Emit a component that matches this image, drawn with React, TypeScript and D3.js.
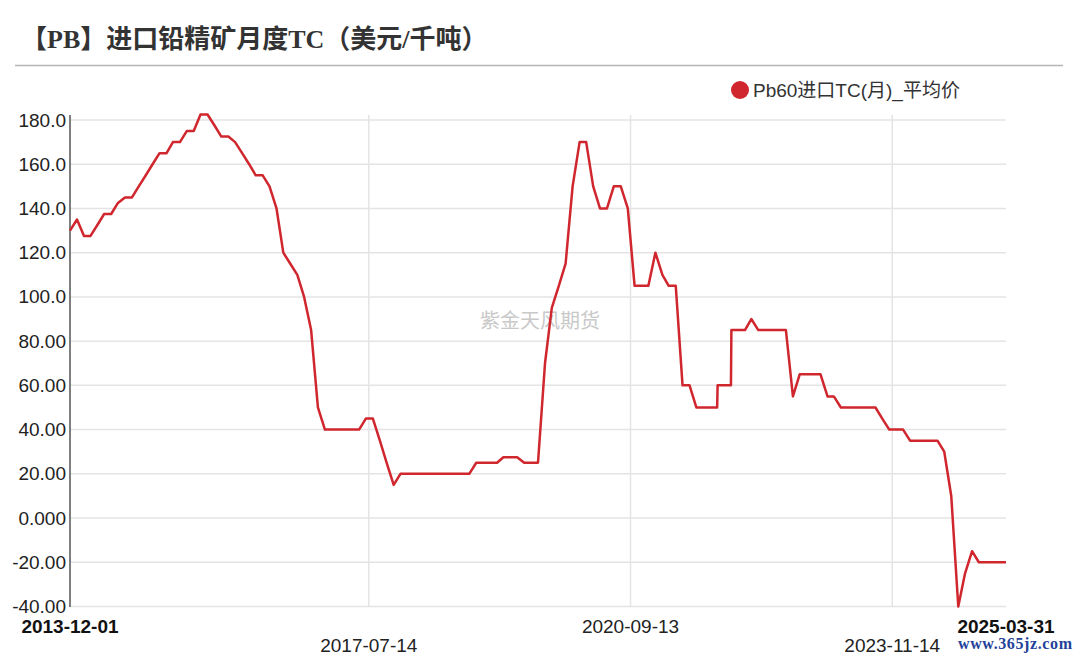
import React from "react";
import * as d3 from "d3";

const tcSeries: [string, number][] = [
  ["2013-12-01", 130], ["2014-01-01", 135], ["2014-02-01", 127.5], ["2014-03-01", 127.5],
  ["2014-04-01", 132.5], ["2014-05-01", 137.5], ["2014-06-01", 137.5], ["2014-07-01", 142.5],
  ["2014-08-01", 145], ["2014-09-01", 145], ["2014-10-01", 150], ["2014-11-01", 155],
  ["2014-12-01", 160], ["2015-01-01", 165], ["2015-02-01", 165], ["2015-03-01", 170],
  ["2015-04-01", 170], ["2015-05-01", 175], ["2015-06-01", 175], ["2015-07-01", 182.5],
  ["2015-08-01", 182.5], ["2015-09-01", 177.5], ["2015-10-01", 172.5], ["2015-11-01", 172.5],
  ["2015-12-01", 170], ["2016-01-01", 165], ["2016-02-01", 160], ["2016-03-01", 155],
  ["2016-04-01", 155], ["2016-05-01", 150], ["2016-06-01", 140], ["2016-07-01", 120],
  ["2016-08-01", 115], ["2016-09-01", 110], ["2016-10-01", 100], ["2016-11-01", 85],
  ["2016-12-01", 50], ["2017-01-01", 40], ["2017-02-01", 40], ["2017-03-01", 40],
  ["2017-04-01", 40], ["2017-05-01", 40], ["2017-06-01", 40], ["2017-07-01", 45],
  ["2017-08-01", 45], ["2017-09-01", 35], ["2017-10-01", 25], ["2017-11-01", 15],
  ["2017-12-01", 20], ["2018-01-01", 20], ["2018-02-01", 20], ["2018-03-01", 20],
  ["2018-04-01", 20], ["2018-05-01", 20], ["2018-06-01", 20], ["2018-07-01", 20],
  ["2018-08-01", 20], ["2018-09-01", 20], ["2018-10-01", 20], ["2018-11-01", 25],
  ["2018-12-01", 25], ["2019-01-01", 25], ["2019-02-01", 25], ["2019-03-01", 27.5],
  ["2019-04-01", 27.5], ["2019-05-01", 27.5], ["2019-06-01", 25], ["2019-07-01", 25],
  ["2019-08-01", 25], ["2019-09-01", 70], ["2019-10-01", 95], ["2019-11-01", 105],
  ["2019-12-01", 115], ["2020-01-01", 150], ["2020-02-01", 170], ["2020-03-01", 170],
  ["2020-04-01", 150], ["2020-05-01", 140], ["2020-06-01", 140], ["2020-07-01", 150],
  ["2020-08-01", 150], ["2020-09-01", 140], ["2020-10-01", 105], ["2020-11-01", 105],
  ["2020-12-01", 105], ["2021-01-01", 120], ["2021-02-01", 110], ["2021-03-01", 105],
  ["2021-04-01", 105], ["2021-05-01", 60], ["2021-06-01", 60], ["2021-07-01", 50],
  ["2021-08-01", 50], ["2021-09-01", 50], ["2021-10-01", 50], ["2021-10-03", 60],
  ["2021-11-01", 60], ["2021-12-01", 60], ["2021-12-03", 85], ["2022-01-01", 85],
  ["2022-02-01", 85], ["2022-03-01", 90], ["2022-04-01", 85], ["2022-05-01", 85],
  ["2022-06-01", 85], ["2022-07-01", 85], ["2022-08-01", 85], ["2022-09-01", 55],
  ["2022-10-01", 65], ["2022-11-01", 65], ["2022-12-01", 65], ["2023-01-01", 65],
  ["2023-02-01", 55], ["2023-03-01", 55], ["2023-04-01", 50], ["2023-05-01", 50],
  ["2023-06-01", 50], ["2023-07-01", 50], ["2023-08-01", 50], ["2023-09-01", 50],
  ["2023-10-01", 45], ["2023-11-01", 40], ["2023-12-01", 40], ["2024-01-01", 40],
  ["2024-02-01", 35], ["2024-03-01", 35], ["2024-04-01", 35], ["2024-05-01", 35],
  ["2024-06-01", 35], ["2024-07-01", 30], ["2024-08-01", 10], ["2024-09-01", -40],
  ["2024-10-01", -25], ["2024-11-01", -15], ["2024-12-01", -20], ["2025-01-01", -20],
  ["2025-02-01", -20], ["2025-03-01", -20], ["2025-03-31", -20],
];

const yTicks: number[] = [180, 160, 140, 120, 100, 80, 60, 40, 20, 0, -20, -40];
const yTickLabels: string[] = ["180.0", "160.0", "140.0", "120.0", "100.0", "80.00", "60.00", "40.00", "20.00", "0.000", "-20.00", "-40.00"];
const xTickDates: string[] = ["2013-12-01", "2017-07-14", "2020-09-13", "2023-11-14", "2025-03-31"];
const xTickRow: number[] = [0, 1, 0, 1, 0];
const xTickBold: boolean[] = [true, false, false, false, true];
const xGridDates: string[] = ["2017-07-14", "2020-09-13", "2023-11-14"];

const TITLE = "【PB】进口铅精矿月度TC（美元/千吨）";
const LEGEND = "Pb60进口TC(月)_平均价";
const RED = "#d0262d";

const parse = d3.timeParse("%Y-%m-%d");

export default function App() {
  const W = 1080, H = 656;
  const left = 70, right = 1006, top = 120, bottom = 606.5;
  const data = tcSeries.map(([d, v]) => ({ date: parse(d) as Date, value: v }));
  const x = d3.scaleTime()
    .domain([parse("2013-12-01") as Date, parse("2025-03-31") as Date])
    .range([left, right]);
  const y = d3.scaleLinear().domain([-40, 180]).range([bottom, top]);
  const line = d3.line<{ date: Date; value: number }>()
    .x((d) => x(d.date))
    .y((d) => y(d.value));
  const sans = "'Liberation Sans', Arial, 'Noto Sans CJK SC', sans-serif";

  return (
    <svg width={W} height={H} style={{ position: "absolute", left: 0, top: 0, background: "#fff" }}>
      <rect x={0} y={0} width={W} height={H} fill="#fff" />
      <text x={21} y={48} fontSize={26} fontWeight="bold" fill="#333"
        fontFamily="'Liberation Serif', 'Noto Sans CJK SC', serif">{TITLE}</text>
      <line x1={15} x2={1063} y1={65.5} y2={65.5} stroke="#b5b5b5" strokeWidth={1.5} />

      <circle cx={740} cy={90} r={9} fill={RED} />
      <text x={753} y={97} fontSize={19} fill="#333" fontFamily={sans}>{LEGEND}</text>

      {yTicks.map((t) => (
        <line key={"h" + t} x1={left} x2={right} y1={y(t)} y2={y(t)} stroke="#e4e4e4" strokeWidth={1.5} />
      ))}
      {xGridDates.map((d) => {
        const xx = x(parse(d) as Date);
        return <line key={"v" + d} x1={xx} x2={xx} y1={115} y2={bottom} stroke="#e4e4e4" strokeWidth={1.5} />;
      })}
      <line x1={left} x2={left} y1={115} y2={bottom + 0.5} stroke="#555" strokeWidth={1.5} />

      {yTicks.map((t, i) => (
        <text key={"yl" + t} x={66} y={y(t) + 6.5} fontSize={19} textAnchor="end" fill="#222" fontFamily={sans}>
          {yTickLabels[i]}
        </text>
      ))}
      {xTickDates.map((d, i) => (
        <text key={"xl" + d} x={x(parse(d) as Date)} y={xTickRow[i] === 0 ? 632.5 : 651.5}
          fontSize={19} textAnchor="middle" fontWeight={xTickBold[i] ? "bold" : "normal"}
          fill={xTickBold[i] ? "#111" : "#222"} fontFamily={sans}>
          {d}
        </text>
      ))}

      <text x={540} y={328} fontSize={20} textAnchor="middle" fill="#c9c9c9"
        fontFamily="'Noto Sans CJK SC', sans-serif">紫金天风期货</text>

      <path d={line(data) || ""} fill="none" stroke={RED} strokeWidth={2.5} strokeLinejoin="round" />

      <text x={1015} y={649} fontSize={16} textAnchor="middle" fill="#23429a" fontWeight="bold"
        fontFamily="'Liberation Serif', serif" textLength={114}>www.365jz.com</text>
    </svg>
  );
}
